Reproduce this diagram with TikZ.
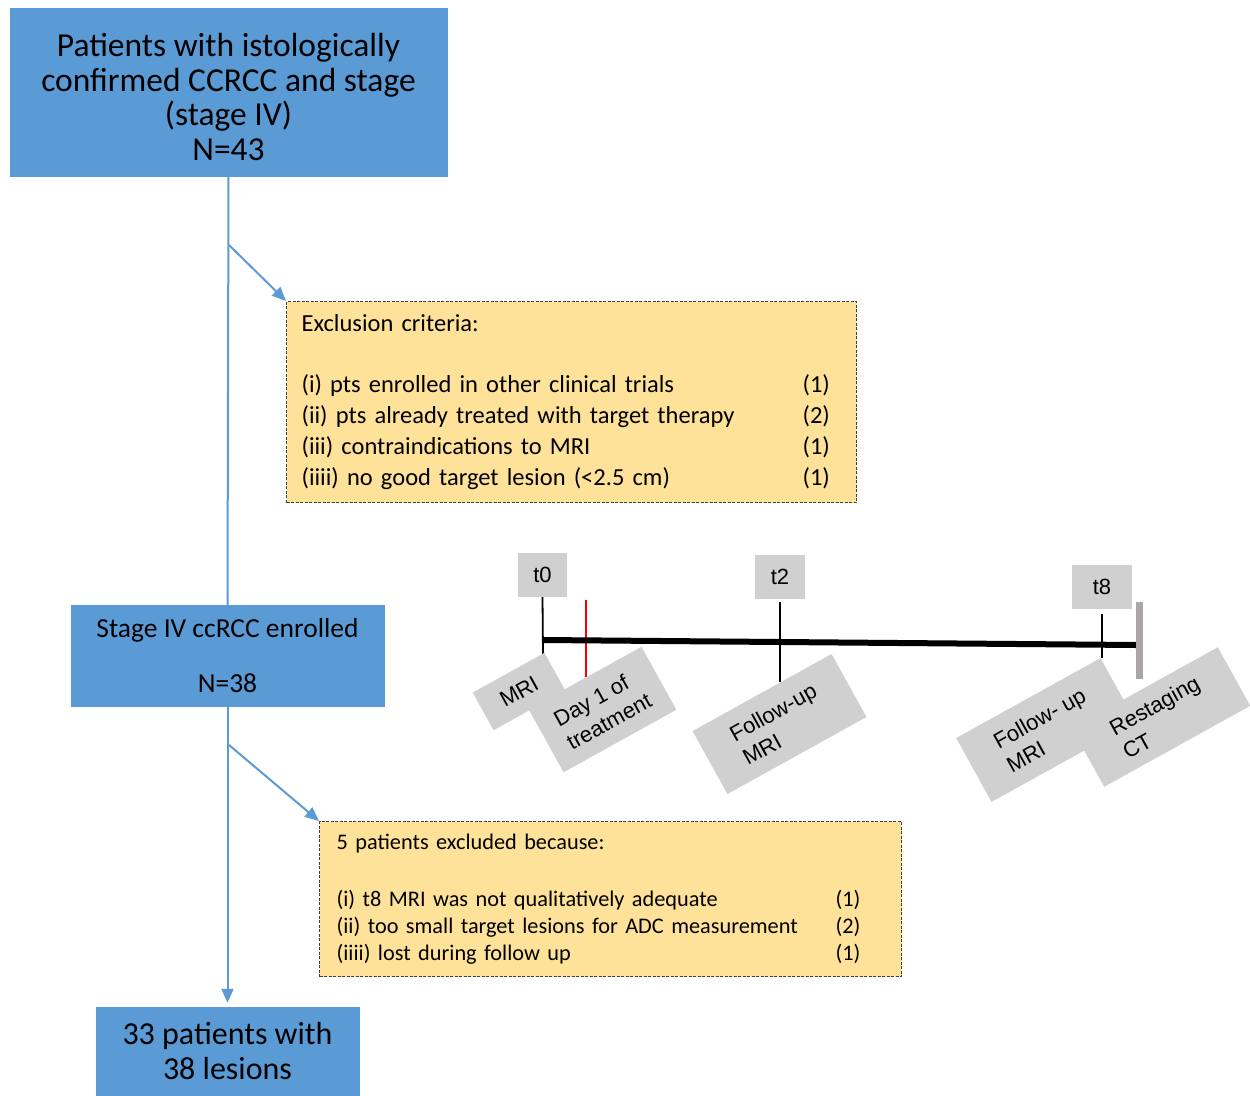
\documentclass[tikz,border=0pt]{standalone}
\usepackage{fontspec}
\setmainfont{Carlito}
\newfontfamily\arialfont{Liberation Sans}
\usetikzlibrary{arrows.meta}

\definecolor{boxblue}{RGB}{91,155,213}
\definecolor{critfill}{RGB}{255,226,153}
\definecolor{notegray}{RGB}{208,208,208}
\definecolor{bargray}{RGB}{170,166,166}

\tikzset{
  bluebox/.style={fill=boxblue, draw=boxblue, align=center, inner sep=0pt},
  critbox/.style={fill=critfill, draw=black!75, line width=1.2pt, dash pattern=on 3pt off 1.5pt,
    align=left, anchor=north west, inner ysep=0pt},
  flowline/.style={draw=boxblue, line width=2pt},
  flowarrow/.style={flowline, -{Triangle[length=14pt,width=12pt]}},
  tlabel/.style={fill=notegray, font=\arialfont\fontsize{22}{26}\selectfont, minimum height=44pt, inner sep=0pt},
  tnote/.style={fill=notegray, rotate=29, align=left, font=\arialfont\fontsize{22}{27}\selectfont, inner sep=0pt},
  tick/.style={line width=1.8pt}
}

\begin{document}
\begin{tikzpicture}[x=1pt,y=-1pt]
  \useasboundingbox (0,0) rectangle (1250,1095);

  %% Flow chart
  \node[bluebox, minimum width=437pt, minimum height=168pt] (all) at (228.5,92) {};
  \node[align=center, inner sep=0pt, font=\fontsize{33.5}{34.4}\selectfont] (alltext) at (228.5,97)
    {Patients with istologically\\confirmed CCRCC and stage\\(stage IV)\\N=43};

  \node[critbox, text width=540pt, inner xsep=15pt, minimum height=201pt, font=\fontsize{24.5}{31}\selectfont] (excl) at (286,301)
    {Exclusion criteria:\\[30pt]
     \makebox[501pt][l]{(i) pts enrolled in other clinical trials}(1)\\
     \makebox[501pt][l]{(ii) pts already treated with target therapy}(2)\\
     \makebox[501pt][l]{(iii) contraindications to MRI}(1)\\
     \makebox[501pt][l]{(iiii) no good target lesion (<2.5 cm)}(1)};

  \node[bluebox, minimum width=313pt, minimum height=101pt, font=\fontsize{27.5}{28}\selectfont] (stage) at (227.5,656)
    {Stage IV ccRCC enrolled\\[27pt]N=38};

  \node[critbox, text width=548pt, inner xsep=17pt, minimum height=155pt, font=\fontsize{22.3}{27}\selectfont] (excl2) at (319,821)
    {5 patients excluded because:\\[30pt]
     \makebox[499pt][l]{(i) t8 MRI was not qualitatively adequate}(1)\\
     \makebox[499pt][l]{(ii) too small target lesions for ADC measurement}(2)\\
     \makebox[499pt][l]{(iiii) lost during follow up}(1)};

  \node[bluebox, minimum width=263pt, minimum height=88pt, font=\fontsize{32}{35.5}\selectfont] (final) at (227.5,1051)
    {33 patients with\\38 lesions};

  \coordinate (split1) at (229,245);
  \coordinate (split2) at (229,745);
  \draw[flowline] (all.south) -- (stage.north);
  \draw[flowarrow] (split1) -- (excl.north west);
  \draw[flowarrow, shorten >=4pt] (stage.south) -- (final.north);
  \draw[flowarrow] (split2) -- (excl2.north west);

  %% Timeline
  \node[tlabel, minimum width=49pt] (t0) at (542.5,575) {t0};
  \node[tlabel, minimum width=50pt] (t2) at (780,577) {t2};
  \node[tlabel, minimum width=60pt] (t8) at (1102,587) {t8};

  \draw[tick] (t0.south) -- (543,654);
  \draw[tick, red] (586,600) -- (586,677);
  \draw[tick] (780,602) -- (780,682);
  \draw[tick] (1102,614) -- (1102,658);
  \draw[line width=6pt] (543,640) -- (1136,645);
  \draw[bargray, line width=7pt] (1139,602) -- (1139,679);

  \node[tnote, minimum width=82pt, minimum height=43pt] (mri) at (519,691.5) {MRI};
  \node[tnote, minimum width=129pt, minimum height=72pt] (day1) at (602.5,709.5) {Day 1 of\\treatment};
  \node[tnote, minimum width=159pt, minimum height=72pt] (fu2) at (779.5,724) {Follow-up\\MRI};
  \node[tnote, minimum width=165pt, minimum height=73pt] (fu8) at (1046,730) {Follow- up\\MRI};
  \node[tnote, minimum width=167pt, minimum height=67pt] (ct) at (1161,717) {Restaging\\CT};

\end{tikzpicture}
\end{document}
